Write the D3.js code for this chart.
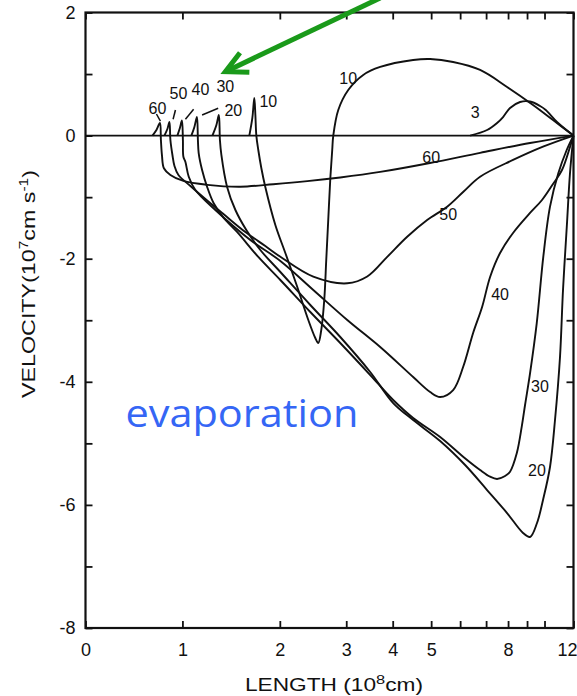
<!DOCTYPE html>
<html><head><meta charset="utf-8">
<script src="https://cdn.jsdelivr.net/npm/d3@7"></script>
<style>body{margin:0;background:#fff}svg{display:block}</style>
</head><body>
<script>
// ---------- data ----------
const xTickValues = [0,1,2,3,4,5,6,7,8,9,10,12];
const xLabelled = [0,1,2,3,4,5,8,12];
const yTickValues = [-8,-7,-6,-5,-4,-3,-2,-1,0,1,2];
const yLabelled = [-8,-6,-4,-2,0,2];

const curve60 = [[0.691,0],[0.732,0.091],[0.768,0.205],[0.778,-0.07],[0.789,-0.32],[0.809,-0.53],[0.876,-0.64],[1.010,-0.737],[1.256,-0.80],[1.595,-0.83],[1.933,-0.79],[2.414,-0.74],[2.91,-0.68],[3.73,-0.59],[4.97,-0.445],[6.77,-0.28],[9.17,-0.12],[12,0]];
const curve50 = [[0.814,0],[0.845,0.107],[0.866,0.221],[0.876,-0.071],[0.897,-0.315],[0.918,-0.494],[0.959,-0.64],[1.082,-0.819],[1.236,-1.03],[1.421,-1.274],[1.646,-1.566],[1.851,-1.794],[2.008,-1.968],[2.504,-2.292],[3.022,-2.40],[3.452,-2.29],[3.882,-1.97],[4.377,-1.643],[4.896,-1.371],[5.552,-1.155],[6.115,-0.916],[6.769,-0.668],[8.263,-0.396],[9.914,-0.18],[12,0]];
const curve40 = [[0.948,0],[0.974,0.123],[0.995,0.245],[1.005,-0.071],[1.010,-0.343],[1.031,-0.429],[1.065,-0.668],[1.133,-0.884],[1.338,-1.209],[1.697,-1.696],[2.008,-2.037],[2.504,-2.508],[3.022,-2.996],[3.731,-3.435],[4.532,-3.922],[4.974,-4.166],[5.31,-4.248],[5.759,-4.134],[6.115,-3.76],[6.5,-3.207],[6.846,-2.785],[7.182,-2.297],[7.636,-1.907],[8.263,-1.582],[9.171,-1.257],[9.857,-1.046],[10.586,-0.786],[11.207,-0.559],[11.759,-0.185],[12,0]];
const curve30 = [[1.092,0],[1.123,0.140],[1.149,0.302],[1.159,-0.071],[1.167,-0.283],[1.202,-0.559],[1.253,-0.830],[1.321,-1.100],[1.424,-1.339],[1.561,-1.566],[1.779,-1.972],[2.008,-2.346],[2.459,-2.866],[2.910,-3.370],[3.516,-3.890],[4.013,-4.296],[4.532,-4.588],[5.310,-4.897],[6.115,-5.217],[6.769,-5.433],[7.182,-5.542],[7.5,-5.579],[7.864,-5.531],[8.105,-5.461],[8.458,-5.162],[8.721,-4.729],[8.895,-4.377],[9.171,-3.862],[9.554,-3.050],[9.931,-1.967],[10.379,-1.155],[10.952,-0.613],[11.531,-0.234],[12,0]];
const curve20 = [[1.308,0],[1.349,0.172],[1.374,0.335],[1.385,-0.071],[1.400,-0.315],[1.458,-0.830],[1.544,-1.209],[1.656,-1.534],[1.800,-1.859],[2.008,-2.216],[2.459,-2.752],[2.910,-3.272],[3.516,-3.841],[4.013,-4.345],[4.532,-4.621],[5.310,-4.962],[6.192,-5.352],[7.045,-5.758],[7.955,-6.132],[8.789,-6.456],[9.171,-6.521],[9.571,-6.294],[9.914,-5.920],[10.379,-5.384],[10.724,-4.621],[11.069,-3.597],[11.276,-2.509],[11.552,-1.420],[11.759,-0.608],[12,0]];
const curve10 = [[1.687,0],[1.718,0.286],[1.738,0.611],[1.749,0.335],[1.759,0],[1.779,-0.234],[1.810,-0.526],[1.851,-0.835],[1.954,-1.452],[2.083,-1.907],[2.263,-2.460],[2.429,-2.996],[2.534,-3.288],[2.579,-3.370],[2.624,-3.158],[2.669,-2.671],[2.699,-2.021],[2.729,-1.371],[2.759,-0.721],[2.789,-0.234],[2.805,0],[2.880,0.416],[3.043,0.741],[3.366,0.985],[3.731,1.115],[4.532,1.228],[4.974,1.244],[5.759,1.196],[6.769,1.066],[7.955,0.790],[9.343,0.497],[10.586,0.253],[12,0]];
const curve3 = [[6.385,0],[7.045,0.091],[7.5,0.205],[7.773,0.302],[8.105,0.448],[8.632,0.546],[9.171,0.554],[9.743,0.481],[10.086,0.416],[10.862,0.221],[12,0]];
const seriesNames = ["60","50","40","30","20","10","3"];
const seriesData = [curve60,curve50,curve40,curve30,curve20,curve10,curve3];

// curve labels: [text, x, velocity]
const curveLabels = [["60",0.742,0.448],["50",0.959,0.692],["40",1.185,0.757],["30",1.441,0.790],["20",1.523,0.400],["10",1.882,0.562],
  ["10",3.043,0.920],["3",6.577,0.383],["60",5.0,-0.348],["50",5.586,-1.290],["40",7.636,-2.574],["30",9.743,-4.084],["20",9.571,-5.449]];
// leader lines from labels to spikes: [x1,v1,x2,v2]
const leaders = [[0.732,0.351,0.773,0.237],[0.928,0.416,0.904,0.265],[1.115,0.427,1.031,0.265],[1.367,0.444,1.202,0.335]];
// annotation arrow: tail and tip in data units
const arrowTail = [3.731,2.236], arrowTip = [1.441,1.038];
const noteText = "evaporation", notePos = [0.412,-4.73];

// ---------- layout ----------
const W=577,H=696, L=85.5, R=573.5, T=12.5, B=628;
const xFrac=[0,.1986,.3982,.5343,.6295,.7083,.7677,.8209,.8659,.9048,.9406,1];
const x=d3.scaleLinear().domain(xTickValues).range(xFrac.map(f=>L+f*(R-L)));
const y=d3.scaleLinear().domain([-8,2]).range([B,T]);

const svg=d3.select("body").append("svg").attr("width",W).attr("height",H).style("background","#fff");
const font="'Liberation Sans', Arial, sans-serif";
const ink="#111";

// axes
const ax=(g)=>{g.selectAll(".domain").remove();g.selectAll(".tick line").attr("stroke",ink).attr("stroke-width",1.8);
  g.selectAll("text").attr("font-family",font).attr("font-size",18).attr("fill",ink);};
const bx=svg.append("g").attr("transform",`translate(0,${B})`).call(d3.axisBottom(x).tickValues(xTickValues).tickSizeInner(-7).tickSizeOuter(0).tickPadding(15)
  .tickFormat(d=>xLabelled.includes(d)?String(d):"")).call(ax);
bx.selectAll(".tick text").filter(d=>d===12).attr("text-anchor","end").attr("dx",3.5);
svg.append("g").attr("transform",`translate(0,${T})`).call(d3.axisTop(x).tickValues(xTickValues).tickSizeInner(-7).tickSizeOuter(0).tickFormat("")).call(ax);
svg.append("g").attr("transform",`translate(${L},0)`).call(d3.axisLeft(y).tickValues(yTickValues).tickSizeInner(-7).tickSizeOuter(0).tickPadding(10)
  .tickFormat(d=>yLabelled.includes(d)?(d<0?"-"+(-d):String(d)):"")).call(ax);
svg.append("g").attr("transform",`translate(${R},0)`).call(d3.axisRight(y).tickValues(yTickValues).tickSizeInner(-7).tickSizeOuter(0).tickFormat("")).call(ax);

// frame
svg.append("rect").attr("x",L).attr("y",T).attr("width",R-L).attr("height",B-T).attr("fill","none").attr("stroke",ink).attr("stroke-width",2.2);
// zero line
svg.append("line").attr("x1",x(0)).attr("x2",x(12)).attr("y1",y(0)).attr("y2",y(0)).attr("stroke",ink).attr("stroke-width",1.7);

// curves
const line=d3.line().x(d=>x(d[0])).y(d=>y(d[1])).curve(d3.curveCatmullRom.alpha(0.5));
svg.append("g").selectAll("path").data(seriesData).join("path").attr("d",line)
  .attr("fill","none").attr("stroke",ink).attr("stroke-width",1.9).attr("stroke-linejoin","round");

// leaders
svg.append("g").selectAll("line").data(leaders).join("line")
  .attr("x1",d=>x(d[0])).attr("y1",d=>y(d[1])).attr("x2",d=>x(d[2])).attr("y2",d=>y(d[3]))
  .attr("stroke",ink).attr("stroke-width",1.5);

// labels
svg.append("g").selectAll("text").data(curveLabels).join("text")
  .attr("x",d=>x(d[1])).attr("y",d=>y(d[2])).attr("text-anchor","middle").attr("dominant-baseline","central")
  .attr("font-family",font).attr("font-size",16).attr("fill",ink).text(d=>d[0]);

// axis titles
const yt=svg.append("text").attr("transform","translate(35,284) rotate(-90)").attr("text-anchor","middle")
  .attr("font-family",font).attr("font-size",18).attr("fill",ink).attr("textLength",228).attr("lengthAdjust","spacingAndGlyphs");
yt.append("tspan").text("VELOCITY(10");
yt.append("tspan").attr("baseline-shift","super").attr("font-size",12).text("7");
yt.append("tspan").text("cm  s");
yt.append("tspan").attr("baseline-shift","super").attr("font-size",12).text("-1");
yt.append("tspan").text(")");

const xt=svg.append("text").attr("x",334).attr("y",691).attr("text-anchor","middle")
  .attr("font-family",font).attr("font-size",18).attr("fill",ink).attr("textLength",178).attr("lengthAdjust","spacingAndGlyphs");
xt.append("tspan").text("LENGTH (10");
xt.append("tspan").attr("baseline-shift","super").attr("font-size",13).text("8");
xt.append("tspan").text("cm)");

// evaporation note
svg.append("text").attr("x",x(notePos[0])).attr("y",y(notePos[1])).attr("font-family","'Open Sans', sans-serif")
  .attr("font-size",39).attr("fill","#3566f5").attr("textLength",233).attr("lengthAdjust","spacingAndGlyphs").text(noteText);

// green arrow
const green="#1a9a1a";
const tx=x(arrowTip[0]), ty=y(arrowTip[1]), sx=x(arrowTail[0]), sy=y(arrowTail[1]);
svg.append("line").attr("x1",sx).attr("y1",sy).attr("x2",tx).attr("y2",ty).attr("stroke",green).attr("stroke-width",5);
const ang=Math.atan2(sy-ty,sx-tx), a=27*Math.PI/180, len=24;
const arms=[ang+a,ang-a].map(t=>[tx+len*Math.cos(t),ty+len*Math.sin(t)]);
svg.append("path").attr("d",`M${arms[0][0]},${arms[0][1]}L${tx},${ty}L${arms[1][0]},${arms[1][1]}`)
  .attr("fill","none").attr("stroke",green).attr("stroke-width",5).attr("stroke-linejoin","miter");
</script>
</body></html>
